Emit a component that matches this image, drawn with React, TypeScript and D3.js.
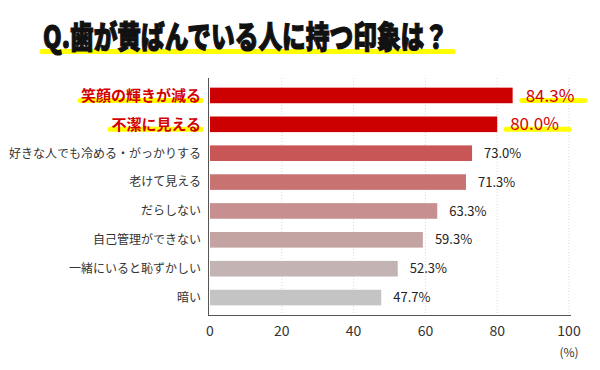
import React from "react";
import * as d3 from "d3";

const categories = [
  "笑顔の輝きが減る",
  "不潔に見える",
  "好きな人でも冷める・がっかりする",
  "老けて見える",
  "だらしない",
  "自己管理ができない",
  "一緒にいると恥ずかしい",
  "暗い",
];
const values = [84.3, 80.0, 73.0, 71.3, 63.3, 59.3, 52.3, 47.7];
const barColors = [
  "#cc0000",
  "#cc0000",
  "#c85656",
  "#c87272",
  "#c78f8f",
  "#c4a3a3",
  "#c3b3b3",
  "#c4c4c4",
];
const highlighted = [true, true, false, false, false, false, false, false];
const xTicks = [0, 20, 40, 60, 80, 100];

const title = "Q.歯が黄ばんでいる人に持つ印象は？";
const font = "'Noto Sans CJK JP', 'Noto Sans', sans-serif";

export default function App() {
  const width = 600;
  const height = 370;
  const plotTop = 78;
  const plotBottom = 315;

  const x = d3.scaleLinear().domain([0, 100]).range([210, 569]);
  const y = d3
    .scaleBand<string>()
    .domain(categories)
    .range([81, 312])
    .paddingInner(0.46)
    .paddingOuter(0.23);

  return (
    <svg
      width={width}
      height={height}
      style={{ position: "absolute", left: 0, top: 0, background: "#fff" }}
      fontFamily={font}
    >
      {/* title with yellow marker */}
      <line x1={42} x2={453} y1={51.5} y2={51.5} stroke="#ffff00" strokeWidth={5} strokeLinecap="round" />
      <text
        x={43}
        y={48}
        fontSize={31}
        fontWeight={900}
        fill="#111"
        textLength={405}
        lengthAdjust="spacingAndGlyphs"
        stroke="#111"
        strokeWidth={1.2}
      >
        {title}
      </text>

      {/* grid */}
      {xTicks.slice(1).map((t) => (
        <line
          key={t}
          x1={x(t)}
          x2={x(t)}
          y1={plotTop}
          y2={plotBottom}
          stroke="#d8d8d8"
          strokeDasharray="1,2"
        />
      ))}

      {/* bars */}
      {categories.map((c, i) => {
        const yc = (y(c) as number) + y.bandwidth() / 2;
        const hl = highlighted[i];
        const labelW = hl ? c.length * 15 : 0;
        return (
          <g key={c}>
            <rect
              x={x(0)}
              y={y(c)}
              width={x(values[i]) - x(0)}
              height={y.bandwidth()}
              fill={barColors[i]}
            />
            {hl && (
              <line
                x1={203 - labelW - 3}
                x2={201}
                y1={yc + 5}
                y2={yc + 5}
                stroke="#ffff00"
                strokeWidth={5}
                strokeLinecap="round"
              />
            )}
            <text
              x={201}
              y={yc}
              dy="0.36em"
              textAnchor="end"
              fontSize={hl ? 15 : 12}
              fontWeight={hl ? 700 : 400}
              fill={hl ? "#d40000" : "#333"}
            >
              {c}
            </text>
            {hl && (
              <line
                x1={x(values[i]) + 9}
                x2={x(values[i]) + 72}
                y1={yc + 5}
                y2={yc + 5}
                stroke="#ffff00"
                strokeWidth={5}
                strokeLinecap="round"
              />
            )}
            <text
              x={x(values[i]) + (hl ? 13 : 12)}
              y={yc}
              dy="0.36em"
              fontSize={hl ? 17 : 13}
              fill={hl ? "#d40000" : "#222"}
            >
              {values[i].toFixed(1)}%
            </text>
          </g>
        );
      })}

      {/* axes */}
      <line x1={x(0) - 1.5} x2={x(0) - 1.5} y1={plotTop} y2={plotBottom} stroke="#555" />
      <line x1={x(0) - 2} x2={x(100) + 2} y1={plotBottom + 0.5} y2={plotBottom + 0.5} stroke="#555" />
      {xTicks.map((t) => (
        <text key={t} x={x(t)} y={336} textAnchor="middle" fontSize={14} fill="#333">
          {t}
        </text>
      ))}
      <text x={x(100)} y={357} textAnchor="middle" fontSize={12} fill="#333">
        (%)
      </text>
    </svg>
  );
}
